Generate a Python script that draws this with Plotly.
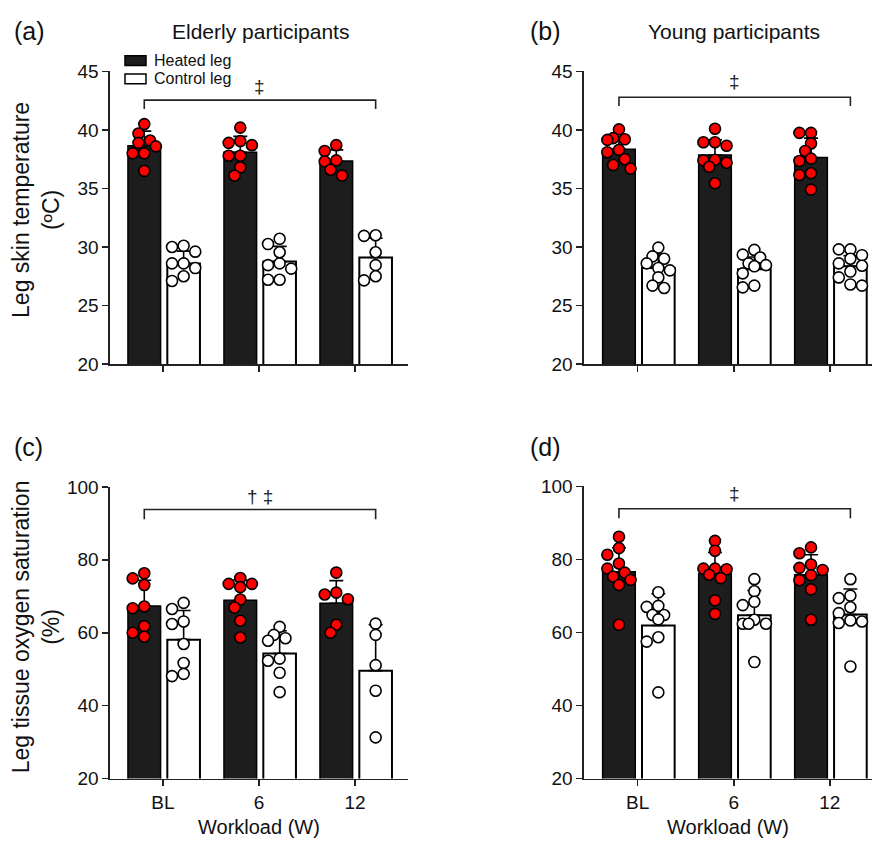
import plotly.graph_objects as go

W, H = 874, 850
FONT = "Liberation Sans, Arial, Helvetica, sans-serif"

workloads = ["BL", "6", "12"]

# ---- (a) Elderly, leg skin temperature (°C) ----
a_heated = [
    [40.5, 39.7, 39.1, 38.9, 38.6, 38.0, 38.0, 36.5],
    [40.2, 39.05, 38.9, 38.7, 37.8, 37.8, 36.8, 36.1],
    [38.7, 38.2, 37.4, 37.3, 36.6, 36.1],
]
a_control = [
    [30.1, 30.0, 29.6, 28.6, 28.6, 28.2, 27.5, 27.1],
    [30.7, 30.25, 29.55, 28.6, 28.45, 28.15, 27.2, 27.2],
    [31.0, 30.95, 29.55, 28.45, 27.5, 27.15],
]
a_heated_mean = [38.65, 38.1, 37.35]
a_heated_sd = [1.25, 1.35, 0.95]
a_control_mean = [28.6, 28.75, 29.1]
a_control_sd = [1.05, 1.3, 1.65]

# ---- (b) Young, leg skin temperature (°C) ----
b_heated = [
    [40.05, 39.3, 39.2, 39.15, 38.3, 38.1, 37.5, 37.0, 36.7],
    [40.1, 38.95, 38.95, 38.65, 37.45, 37.4, 37.2, 36.85, 35.45],
    [39.75, 39.75, 38.85, 38.2, 37.55, 37.35, 36.3, 36.15, 34.9],
]
b_control = [
    [29.95, 29.2, 29.0, 28.6, 28.2, 28.0, 27.4, 26.7, 26.5],
    [29.75, 29.35, 29.1, 28.6, 28.45, 28.35, 27.75, 26.7, 26.55],
    [29.8, 29.8, 29.3, 29.0, 28.6, 28.4, 27.9, 27.4, 26.8, 26.7],
]
b_heated_mean = [38.35, 37.85, 37.65]
b_heated_sd = [1.0, 1.3, 1.65]
b_control_mean = [28.2, 28.1, 28.35]
b_control_sd = [1.2, 1.05, 0.9]

# ---- (c) Elderly, leg tissue oxygen saturation (%) ----
c_heated = [
    [76.3, 74.9, 73.1, 67.2, 66.7, 61.8, 60.0, 58.9],
    [75.0, 73.4, 73.4, 72.5, 69.1, 66.9, 63.3, 58.7],
    [76.5, 71.0, 70.5, 69.2, 62.2, 60.0],
]
c_control = [
    [68.2, 66.5, 63.1, 62.4, 56.9, 51.7, 48.7, 48.1],
    [61.6, 59.4, 58.5, 57.8, 52.9, 52.3, 49.0, 43.7],
    [62.5, 59.4, 51.1, 44.1, 31.3],
]
c_heated_mean = [67.3, 68.9, 68.1]
c_heated_sd = [7.1, 5.6, 6.2]
c_control_mean = [58.1, 54.3, 49.6]
c_control_sd = [8.0, 6.2, 12.6]

# ---- (d) Young, leg tissue oxygen saturation (%) ----
d_heated = [
    [86.2, 83.1, 81.3, 78.9, 77.5, 76.4, 75.3, 74.4, 73.0, 62.1],
    [85.1, 82.4, 77.5, 77.5, 77.3, 75.8, 74.9, 68.8, 65.1],
    [83.3, 81.7, 78.6, 77.7, 77.1, 75.7, 74.3, 71.8, 63.5],
]
d_control = [
    [71.0, 67.3, 67.0, 64.8, 64.8, 63.6, 58.7, 57.5, 43.6],
    [74.6, 71.3, 68.4, 67.5, 63.5, 62.4, 62.4, 62.4, 51.9],
    [74.6, 70.1, 69.4, 66.9, 65.3, 63.3, 63.0, 62.6, 50.7],
]
d_heated_mean = [76.6, 76.1, 75.8]
d_heated_sd = [6.6, 5.8, 5.5]
d_control_mean = [61.9, 64.7, 64.9]
d_control_sd = [8.7, 6.8, 7.0]

titles = ["Elderly participants", "Young participants"]
ylabels = ["Leg skin temperature<br>(ºC)", "Leg tissue oxygen saturation<br>(%)"]
sig_labels = ["‡", "‡", "† ‡", "‡"]
xlabel = "Workload (W)"
legend_labels = ["Heated leg", "Control leg"]

# ---------------- layout helpers ----------------
H_OFF, H_W = -0.365, 0.34   # heated bar offset / width (category units)
C_OFF, C_W = 0.045, 0.34    # control bar offset / width


def px_x(p):
    return p / W


def px_y(p):
    return 1 - p / H


panels = [
    dict(letter="(a)", heated=a_heated, control=a_control, hm=a_heated_mean, hs=a_heated_sd,
         cm=a_control_mean, cs=a_control_sd, box=(110, 408, 63, 363), xr=[-0.552, 2.552],
         yr=[20, 45], dt=5, br=(41.8, 42.55), sig_y=43.75, sig=sig_labels[0], labels=False),
    dict(letter="(b)", heated=b_heated, control=b_control, hm=b_heated_mean, hs=b_heated_sd,
         cm=b_control_mean, cs=b_control_sd, box=(584, 872, 63, 363), xr=[-0.559, 2.44],
         yr=[20, 45], dt=5, br=(42.05, 42.8), sig_y=44.15, sig=sig_labels[1], labels=False),
    dict(letter="(c)", heated=c_heated, control=c_control, hm=c_heated_mean, hs=c_heated_sd,
         cm=c_control_mean, cs=c_control_sd, box=(110, 408, 489, 788), xr=[-0.552, 2.552],
         yr=[20, 100], dt=20, br=(91.1, 93.8), sig_y=97.3, sig=sig_labels[2], labels=True),
    dict(letter="(d)", heated=d_heated, control=d_control, hm=d_heated_mean, hs=d_heated_sd,
         cm=d_control_mean, cs=d_control_sd, box=(584, 872, 488.5, 788), xr=[-0.559, 2.44],
         yr=[20, 100], dt=20, br=(91.3, 93.9), sig_y=98.0, sig=sig_labels[3], labels=True),
]


def swarm(values, ppu_y, d=12.0, step=5.8, kmax=2):
    """Greedy beeswarm: place points (largest first) on the closest free slot."""
    order = sorted(range(len(values)), key=lambda i: -values[i])
    placed = []
    offs = [0.0] * len(values)
    cands = [0]
    for k in range(1, kmax + 1):
        cands += [-k, k]
    for i in order:
        yp = values[i] * ppu_y
        best, best_d = 0.0, -1.0
        chosen = None
        for k in cands:
            xo = k * step
            md = min([((xo - px) ** 2 + (yp - py) ** 2) ** 0.5 for px, py in placed] or [1e9])
            if md >= d * 0.8:
                chosen = xo
                break
            if md > best_d:
                best, best_d = xo, md
        if chosen is None:
            chosen = best
        placed.append((chosen, yp))
        offs[i] = chosen
    return offs


fig = go.Figure()
annotations = []
shapes = []
layout_axes = {}

for idx, p in enumerate(panels):
    n = idx + 1
    xa = "x" if n == 1 else f"x{n}"
    ya = "y" if n == 1 else f"y{n}"
    x0, x1, yt, yb = p["box"]
    ppu_x = (x1 - x0) / (p["xr"][1] - p["xr"][0])
    ppu_y = (yb - yt) / (p["yr"][1] - p["yr"][0])
    xs = [0, 1, 2]

    fig.add_trace(go.Bar(
        x=xs, y=p["hm"], offset=H_OFF, width=H_W, xaxis=xa, yaxis=ya,
        marker=dict(color="#1d1d1d", line=dict(color="black", width=1.5)),
        error_y=dict(type="data", symmetric=False, array=p["hs"], arrayminus=[0, 0, 0],
                     color="black", thickness=1.6, width=7),
        showlegend=False, hoverinfo="skip"))
    fig.add_trace(go.Bar(
        x=xs, y=p["cm"], offset=C_OFF, width=C_W, xaxis=xa, yaxis=ya,
        marker=dict(color="white", line=dict(color="black", width=2)),
        error_y=dict(type="data", symmetric=False, array=p["cs"], arrayminus=[0, 0, 0],
                     color="black", thickness=1.6, width=7),
        showlegend=False, hoverinfo="skip"))

    for series, off, wdt, fill in [(p["heated"], H_OFF, H_W, "#ff0000"),
                                   (p["control"], C_OFF, C_W, "white")]:
        px_list, py_list = [], []
        for g, vals in enumerate(series):
            offs = swarm(vals, ppu_y)
            for v, o in zip(vals, offs):
                px_list.append(g + off + wdt / 2 + o / ppu_x)
                py_list.append(v)
        fig.add_trace(go.Scatter(
            x=px_list, y=py_list, mode="markers", xaxis=xa, yaxis=ya,
            marker=dict(size=11, color=fill, line=dict(color="black", width=1.6)),
            showlegend=False, hoverinfo="skip", cliponaxis=False))

    # significance bracket
    lo, hi = p["br"]
    hx = 0 + H_OFF + H_W / 2
    cx = 2 + C_OFF + C_W / 2
    fig.add_trace(go.Scatter(
        x=[hx, hx, cx, cx], y=[lo, hi, hi, lo], mode="lines", xaxis=xa, yaxis=ya,
        line=dict(color="#222", width=1.6), showlegend=False, hoverinfo="skip",
        cliponaxis=False))
    annotations.append(dict(x=1 + (H_OFF + C_OFF + C_W) / 2, y=p["sig_y"], xref=xa, yref=ya,
                            text=p["sig"], showarrow=False, font=dict(size=19, color="#222"),
                            xanchor="center", yanchor="middle"))

    axis_common = dict(showline=True, linecolor="#222", linewidth=1.6, ticks="outside",
                       ticklen=6, tickwidth=1.6, tickcolor="#222", showgrid=False,
                       zeroline=False, mirror=False)
    layout_axes["xaxis" if n == 1 else f"xaxis{n}"] = dict(
        domain=[px_x(x0), px_x(x1)], range=p["xr"], anchor=ya, tickvals=xs,
        ticktext=workloads, showticklabels=p["labels"],
        tickfont=dict(size=19, color="#111"), **axis_common)
    layout_axes["yaxis" if n == 1 else f"yaxis{n}"] = dict(
        domain=[px_y(yb), px_y(yt)], range=p["yr"], anchor=xa,
        tickvals=list(range(p["yr"][0], p["yr"][1] + 1, p["dt"])),
        tickfont=dict(size=19, color="#111"), **axis_common)

    # panel letter
    lx = 12 if x0 < 300 else 528
    ly = 22 if yt < 300 else 448
    annotations.append(dict(x=px_x(lx), y=px_y(ly), xref="paper", yref="paper", text=p["letter"],
                            showarrow=False, xanchor="left", yanchor="middle",
                            font=dict(size=25, color="#111")))
    if p["labels"]:
        annotations.append(dict(x=px_x((x0 + x1) / 2), y=px_y(838), xref="paper", yref="paper",
                                text=xlabel, showarrow=False, xanchor="center", yanchor="middle",
                                font=dict(size=20, color="#111")))

# titles
annotations.append(dict(x=px_x(260), y=px_y(22), xref="paper", yref="paper", text=titles[0],
                        showarrow=False, xanchor="center", yanchor="middle",
                        font=dict(size=21, color="#111")))
annotations.append(dict(x=px_x(734), y=px_y(22), xref="paper", yref="paper", text=titles[1],
                        showarrow=False, xanchor="center", yanchor="middle",
                        font=dict(size=21, color="#111")))
# y labels
annotations.append(dict(x=px_x(36), y=px_y(205), xref="paper", yref="paper", text=ylabels[0],
                        showarrow=False, textangle=-90, xanchor="center", yanchor="middle",
                        font=dict(size=23, color="#111")))
annotations.append(dict(x=px_x(36), y=px_y(633), xref="paper", yref="paper", text=ylabels[1],
                        showarrow=False, textangle=-90, xanchor="center", yanchor="middle",
                        font=dict(size=23, color="#111")))

# legend (panel a)
leg_fill = ["#1d1d1d", "white"]
for i, (lab, fill) in enumerate(zip(legend_labels, leg_fill)):
    yc = 52 + i * 18.5
    shapes.append(dict(type="rect", xref="paper", yref="paper",
                       x0=px_x(125), x1=px_x(146), y0=px_y(yc - 5), y1=px_y(yc + 5),
                       fillcolor=fill, line=dict(color="black", width=1.5)))
    annotations.append(dict(x=px_x(152), y=px_y(yc), xref="paper", yref="paper", text=lab,
                            showarrow=False, xanchor="left", yanchor="middle",
                            font=dict(size=16, color="#111")))

fig.update_layout(
    width=W, height=H, margin=dict(l=0, r=0, t=0, b=0),
    paper_bgcolor="white", plot_bgcolor="white", barmode="overlay",
    font=dict(family=FONT, color="#111"), showlegend=False,
    annotations=annotations, shapes=shapes, **layout_axes)

post = (
    "document.documentElement.style.margin='0';"
    "document.documentElement.style.padding='0';"
    "document.documentElement.style.overflow='hidden';"
    "document.body.style.margin='0';document.body.style.padding='0';"
    "document.body.style.overflow='hidden';"
    "var gd=document.getElementById('{plot_id}');"
    "gd.style.position='fixed';gd.style.top='0px';gd.style.left='0px';"
)
fig.write_html("out.html", config={"displayModeBar": False, "staticPlot": True},
               post_script=post)
